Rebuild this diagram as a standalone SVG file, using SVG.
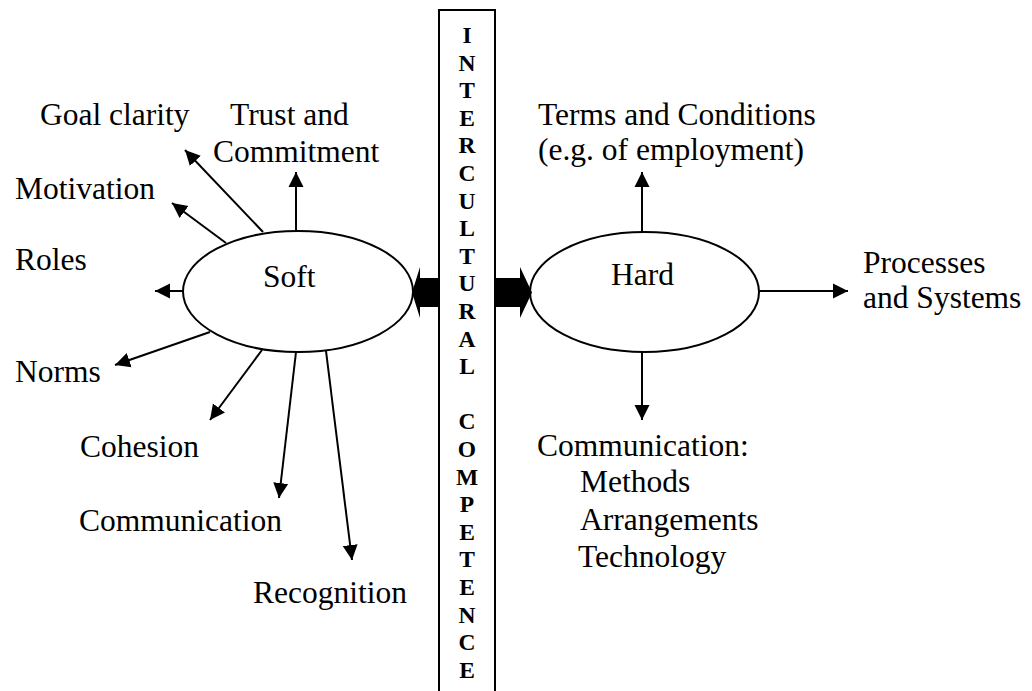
<svg xmlns="http://www.w3.org/2000/svg" width="1032" height="691" viewBox="0 0 1032 691">
<defs>
<style>
.t{font-family:"Liberation Serif","Times New Roman",serif;font-size:31.5px;fill:#000}
.v{font-family:"Liberation Serif","Times New Roman",serif;font-size:23.5px;font-weight:bold;fill:#000;text-anchor:middle}
.ell{fill:none;stroke:#000;stroke-width:2}
.c{stroke:#000;stroke-width:2;fill:none;marker-end:url(#ah)}
.thick{fill:#000;stroke:none}
</style>
<marker id="ah" markerUnits="userSpaceOnUse" markerWidth="16" markerHeight="16" refX="15" refY="8" orient="auto">
<path d="M0,0.5 L15,8 L0,15.5 z" fill="#000"/>
</marker>
</defs>
<rect width="1032" height="691" fill="#fff"/>

<g id="competence">
<path d="M439,691 V10 H495 V691" fill="none" stroke="#000" stroke-width="2"/>
<text class="v" x="467" y="43">I</text>
<text class="v" x="467" y="70.6">N</text>
<text class="v" x="467" y="98.2">T</text>
<text class="v" x="467" y="125.8">E</text>
<text class="v" x="467" y="153.4">R</text>
<text class="v" x="467" y="181">C</text>
<text class="v" x="467" y="208.6">U</text>
<text class="v" x="467" y="236.2">L</text>
<text class="v" x="467" y="263.8">T</text>
<text class="v" x="467" y="291.4">U</text>
<text class="v" x="467" y="319">R</text>
<text class="v" x="467" y="346.6">A</text>
<text class="v" x="467" y="374.2">L</text>
<text class="v" x="467" y="429.4">C</text>
<text class="v" x="467" y="457">O</text>
<text class="v" x="467" y="484.6">M</text>
<text class="v" x="467" y="512.2">P</text>
<text class="v" x="467" y="539.8">E</text>
<text class="v" x="467" y="567.4">T</text>
<text class="v" x="467" y="595">E</text>
<text class="v" x="467" y="622.6">N</text>
<text class="v" x="467" y="650.2">C</text>
<text class="v" x="467" y="677.8">E</text>
</g>

<g id="soft">
<ellipse class="ell" cx="298" cy="291.5" rx="115" ry="60.5"/>
<text class="t" x="263" y="287">Soft</text>
</g>

<g id="hard">
<ellipse class="ell" cx="644.5" cy="292" rx="114.5" ry="60"/>
<text class="t" x="611" y="285">Hard</text>
</g>

<g id="goal-clarity"><text class="t" x="40" y="125">Goal clarity</text></g>
<g id="trust"><text class="t" x="230" y="125">Trust and</text><text class="t" x="213" y="162">Commitment</text></g>
<g id="motivation"><text class="t" x="15" y="199">Motivation</text></g>
<g id="roles"><text class="t" x="15" y="270">Roles</text></g>
<g id="norms"><text class="t" x="15" y="382">Norms</text></g>
<g id="cohesion"><text class="t" x="80" y="457">Cohesion</text></g>
<g id="communication-soft"><text class="t" x="79" y="531">Communication</text></g>
<g id="recognition"><text class="t" x="253" y="603">Recognition</text></g>

<g id="terms"><text class="t" x="538" y="125">Terms and Conditions</text><text class="t" x="538" y="160">(e.g. of employment)</text></g>
<g id="processes"><text class="t" x="863" y="273">Processes</text><text class="t" x="863" y="308">and Systems</text></g>
<g id="communication-hard">
<text class="t" x="537" y="456">Communication:</text>
<text class="t" x="580" y="492">Methods</text>
<text class="t" x="580" y="530">Arrangements</text>
<text class="t" x="578" y="567">Technology</text>
</g>

<g id="connectors">
<line class="c" x1="263" y1="232" x2="185" y2="150"/>
<line class="c" x1="296" y1="231" x2="296" y2="172"/>
<line class="c" x1="226" y1="243" x2="172" y2="203"/>
<line class="c" x1="183" y1="291" x2="155" y2="291"/>
<line class="c" x1="210" y1="332" x2="115" y2="365"/>
<line class="c" x1="262" y1="350" x2="210" y2="420"/>
<line class="c" x1="296" y1="352" x2="279" y2="498"/>
<line class="c" x1="326" y1="351" x2="352" y2="560"/>
<line class="c" x1="642" y1="232" x2="642" y2="172"/>
<line class="c" x1="759" y1="291" x2="848" y2="291"/>
<line class="c" x1="642" y1="352" x2="642" y2="420"/>
<path class="thick" d="M440,278 H420 V267 L412,292.5 L420,318 V307 H440 Z"/>
<path class="thick" d="M495,278 H520 V267 L532,292.5 L520,318 V307 H495 Z"/>
</g>
</svg>
